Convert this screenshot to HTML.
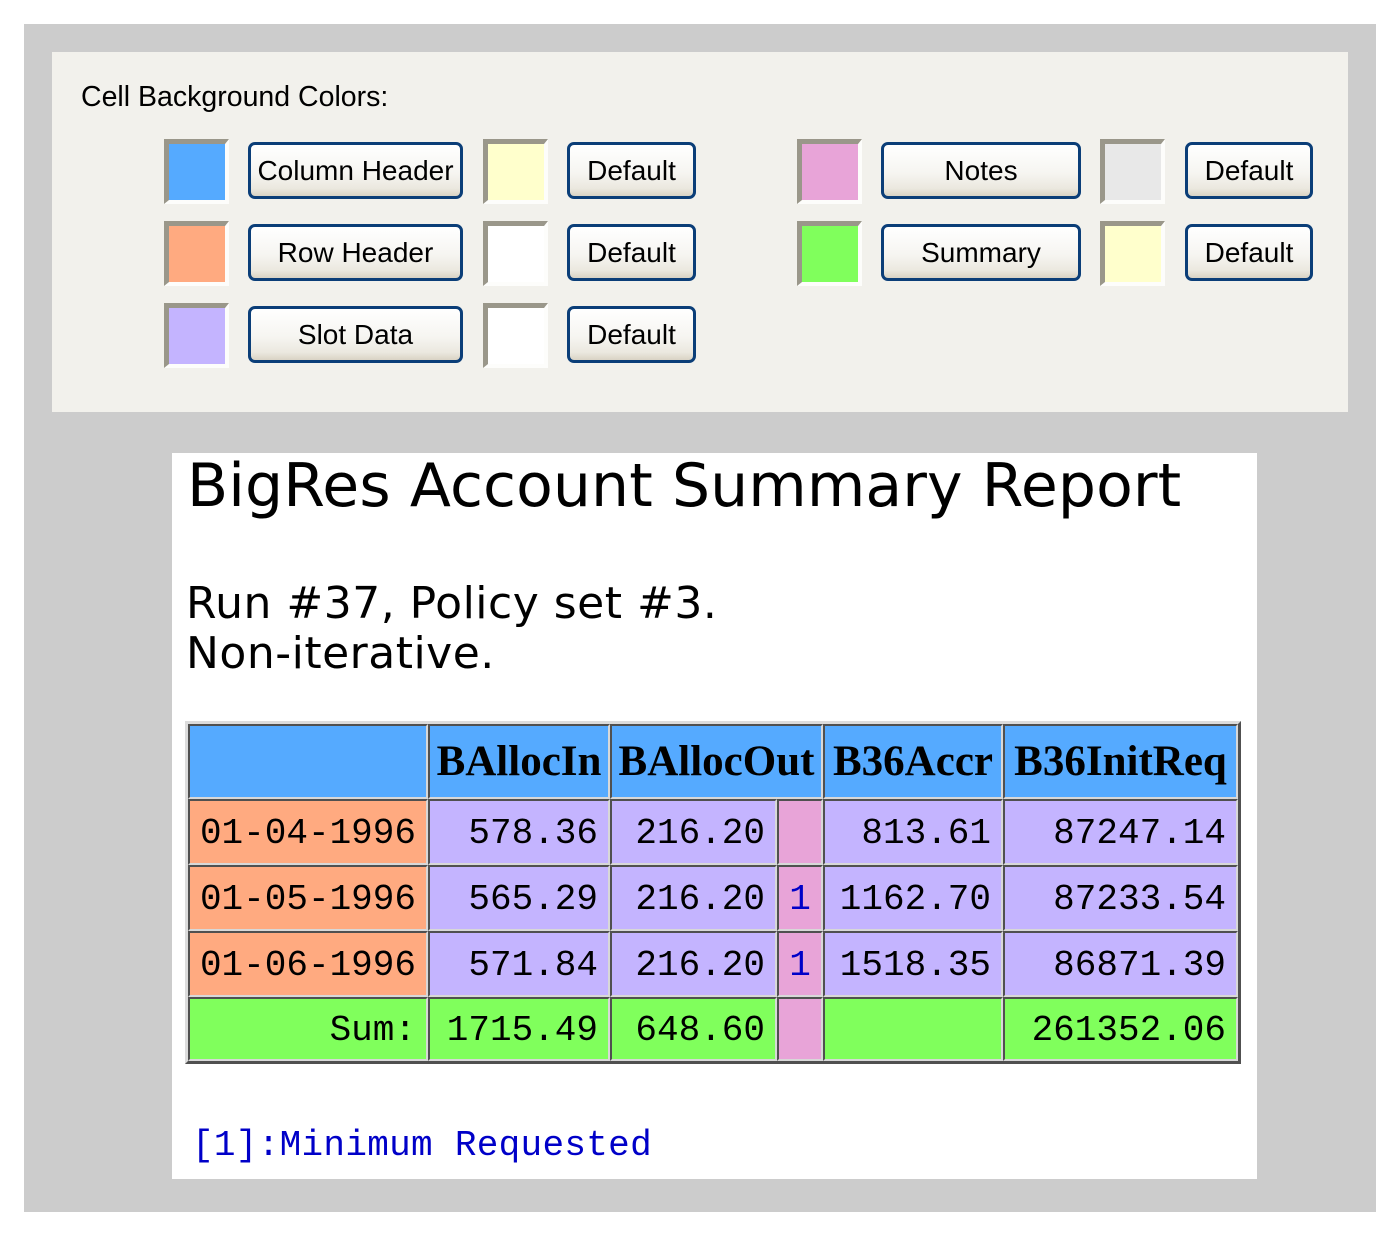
<!DOCTYPE html>
<html>
<head>
<meta charset="utf-8">
<style>
  html, body { margin:0; padding:0; }
  body { width:1400px; height:1237px; background:#ffffff; position:relative; overflow:hidden; }
  .abs { position:absolute; }
  #grey { left:24px; top:24px; width:1352px; height:1188px; background:#cccccc; }
  #panel { left:52px; top:52px; width:1296px; height:360px; background:#f2f1ec; }
  #report { left:172px; top:453px; width:1085px; height:726px; background:#ffffff; }
  .lbl { font-family:"Liberation Sans", sans-serif; font-size:28.5px; line-height:32px; color:#000; white-space:nowrap; }
  .sw { box-sizing:border-box; width:65px; height:65px;
        border-top:5px solid #9a978a; border-left:5px solid #9a978a;
        border-right:4px solid #fdfdfb; border-bottom:4px solid #fdfdfb; }
  .btn { box-sizing:border-box; height:57px; border:3px solid #0b3e78; border-radius:7px;
         background:linear-gradient(to bottom, #ffffff 0%, #f6f5f1 55%, #ebe8df 85%, #d9d3c4 100%);
         display:flex; align-items:center; justify-content:center;
         font-family:"Liberation Sans", sans-serif; font-size:28px; color:#000; white-space:nowrap; }
  .title { font-family:"DejaVu Sans", sans-serif; font-size:60px; line-height:60px; color:#000; white-space:nowrap; letter-spacing:0.1px; }
  .sub { font-family:"DejaVu Sans", sans-serif; font-size:44px; line-height:50px; color:#000; white-space:nowrap; letter-spacing:0.5px; }
  .cell { position:absolute; box-sizing:border-box;
          border-top:2px solid #505050; border-left:2px solid #505050;
          border-right:2px solid #d8d8d8; border-bottom:2px solid #d8d8d8;
          display:flex; align-items:center; white-space:nowrap; }
  .hd { background:#55aaff; justify-content:center; font-family:"Liberation Serif", serif; font-weight:bold; font-size:43px; color:#000; }
  .rh { background:#ffaa80; }
  .dt { background:#c4b4ff; }
  .nt { background:#e8a4d8; justify-content:center; }
  .sm { background:#80ff5c; }
  .num { justify-content:flex-end; padding-right:10px; padding-top:3px; font-family:"Liberation Mono", monospace; font-size:36px; line-height:40px; color:#000; }
  .note1 { font-family:"Liberation Mono", monospace; font-size:36px; line-height:40px; color:#0000c8; padding-top:3px; }
  .foot { font-family:"Liberation Mono", monospace; font-size:36px; line-height:40px; color:#0000c8; white-space:nowrap; letter-spacing:0.3px; }
</style>
</head>
<body>
<div class="abs" id="grey"></div>
<div class="abs" id="panel"></div>

<div class="abs lbl" style="left:81px; top:81px;">Cell Background Colors:</div>

<!-- Row 1 -->
<div class="abs sw" style="left:164px; top:139px; background:#55aaff;"></div>
<div class="abs btn" style="left:248px; top:142px; width:215px;">Column Header</div>
<div class="abs sw" style="left:483px; top:139px; background:#ffffcc;"></div>
<div class="abs btn" style="left:567px; top:142px; width:129px;">Default</div>
<div class="abs sw" style="left:797px; top:139px; background:#e8a4d8;"></div>
<div class="abs btn" style="left:881px; top:142px; width:200px;">Notes</div>
<div class="abs sw" style="left:1100px; top:139px; background:#e8e8e8;"></div>
<div class="abs btn" style="left:1185px; top:142px; width:128px;">Default</div>

<!-- Row 2 -->
<div class="abs sw" style="left:164px; top:221px; background:#ffaa80;"></div>
<div class="abs btn" style="left:248px; top:224px; width:215px;">Row Header</div>
<div class="abs sw" style="left:483px; top:221px; background:#ffffff;"></div>
<div class="abs btn" style="left:567px; top:224px; width:129px;">Default</div>
<div class="abs sw" style="left:797px; top:221px; background:#80ff5c;"></div>
<div class="abs btn" style="left:881px; top:224px; width:200px;">Summary</div>
<div class="abs sw" style="left:1100px; top:221px; background:#ffffcc;"></div>
<div class="abs btn" style="left:1185px; top:224px; width:128px;">Default</div>

<!-- Row 3 -->
<div class="abs sw" style="left:164px; top:303px; background:#c4b4ff;"></div>
<div class="abs btn" style="left:248px; top:306px; width:215px;">Slot Data</div>
<div class="abs sw" style="left:483px; top:303px; background:#ffffff;"></div>
<div class="abs btn" style="left:567px; top:306px; width:129px;">Default</div>

<div class="abs" id="report"></div>

<div class="abs title" style="left:187px; top:456px;">BigRes Account Summary Report</div>
<div class="abs sub" style="left:186px; top:579px;">Run #37, Policy set #3.</div>
<div class="abs sub" style="left:186px; top:629px;">Non-iterative.</div>

<!-- Table outer border -->
<div class="abs" style="left:185px; top:721px; width:1056px; height:343px; box-sizing:border-box;
     border-top:3px solid #dcdcdc; border-left:3px solid #dcdcdc; border-right:3px solid #505050; border-bottom:3px solid #505050; background:#d8d8d8;"></div>

<!-- Header row: 724 -> 799 -->
<div class="cell hd" style="left:188px; top:724px; width:240px; height:75px;"></div>
<div class="cell hd" style="left:428px; top:724px; width:182px; height:75px;">BAllocIn</div>
<div class="cell hd" style="left:610px; top:724px; width:213px; height:75px;">BAllocOut</div>
<div class="cell hd" style="left:823px; top:724px; width:180px; height:75px;">B36Accr</div>
<div class="cell hd" style="left:1003px; top:724px; width:235px; height:75px;">B36InitReq</div>

<!-- Row 1: 799 -> 865 -->
<div class="cell rh num" style="left:188px; top:799px; width:240px; height:66px;">01-04-1996</div>
<div class="cell dt num" style="left:428px; top:799px; width:182px; height:66px;">578.36</div>
<div class="cell dt num" style="left:610px; top:799px; width:167px; height:66px;">216.20</div>
<div class="cell nt" style="left:777px; top:799px; width:46px; height:66px;"></div>
<div class="cell dt num" style="left:823px; top:799px; width:180px; height:66px;">813.61</div>
<div class="cell dt num" style="left:1003px; top:799px; width:235px; height:66px;">87247.14</div>

<!-- Row 2: 865 -> 931 -->
<div class="cell rh num" style="left:188px; top:865px; width:240px; height:66px;">01-05-1996</div>
<div class="cell dt num" style="left:428px; top:865px; width:182px; height:66px;">565.29</div>
<div class="cell dt num" style="left:610px; top:865px; width:167px; height:66px;">216.20</div>
<div class="cell nt note1" style="left:777px; top:865px; width:46px; height:66px;">1</div>
<div class="cell dt num" style="left:823px; top:865px; width:180px; height:66px;">1162.70</div>
<div class="cell dt num" style="left:1003px; top:865px; width:235px; height:66px;">87233.54</div>

<!-- Row 3: 931 -> 997 -->
<div class="cell rh num" style="left:188px; top:931px; width:240px; height:66px;">01-06-1996</div>
<div class="cell dt num" style="left:428px; top:931px; width:182px; height:66px;">571.84</div>
<div class="cell dt num" style="left:610px; top:931px; width:167px; height:66px;">216.20</div>
<div class="cell nt note1" style="left:777px; top:931px; width:46px; height:66px;">1</div>
<div class="cell dt num" style="left:823px; top:931px; width:180px; height:66px;">1518.35</div>
<div class="cell dt num" style="left:1003px; top:931px; width:235px; height:66px;">86871.39</div>

<!-- Sum row: 997 -> 1061 -->
<div class="cell sm num" style="left:188px; top:997px; width:240px; height:64px;">Sum:</div>
<div class="cell sm num" style="left:428px; top:997px; width:182px; height:64px;">1715.49</div>
<div class="cell sm num" style="left:610px; top:997px; width:167px; height:64px;">648.60</div>
<div class="cell nt" style="left:777px; top:997px; width:46px; height:64px;"></div>
<div class="cell sm num" style="left:823px; top:997px; width:180px; height:64px;"></div>
<div class="cell sm num" style="left:1003px; top:997px; width:235px; height:64px;">261352.06</div>

<div class="abs foot" style="left:192px; top:1126px;">[1]:Minimum Requested</div>
</body>
</html>
